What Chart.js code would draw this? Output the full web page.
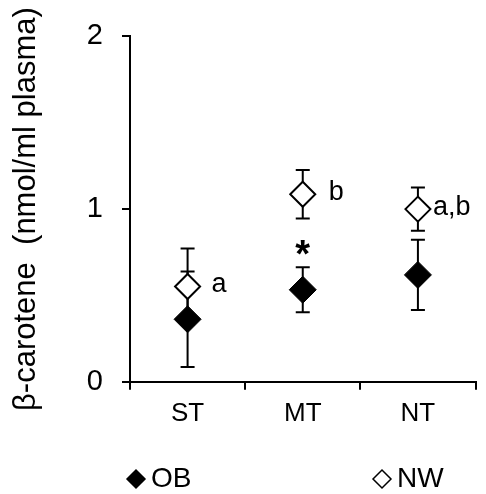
<!DOCTYPE html>
<html>
<head>
<meta charset="utf-8">
<script src="https://cdn.jsdelivr.net/npm/chart.js@4.4.1/dist/chart.umd.min.js"></script>
<style>
  html, body { margin: 0; padding: 0; background: #fff; overflow: hidden; }
  #wrap { width: 486px; height: 494px; overflow: hidden; }
  canvas { display: block; }
</style>
</head>
<body>
<div id="wrap"><canvas id="chart" width="490" height="494" style="width:490px;height:494px"></canvas></div>
<script>
// data
const categories = ['ST', 'MT', 'NT'];
const obMeans = [0.362, 0.533, 0.619];
const obErrors = [0.276, 0.13, 0.203];
const obMarks = ['', '*', ''];
const nwMeans = [0.552, 1.086, 1.0];
const nwErrors = [0.22, 0.14, 0.125];
const nwLetters = ['a', 'b', 'a,b'];
const yTicks = [0, 1, 2];

const FONT = '"Liberation Sans", Arial, sans-serif';

// error bars under the markers
const errorBars = {
    id: 'errorBars',
    beforeDatasetsDraw(chart) {
        const { ctx, scales: { y } } = chart;
        ctx.save();
        ctx.strokeStyle = '#000';
        ctx.lineWidth = 2;
        chart.data.datasets.forEach((ds, i) => {
            chart.getDatasetMeta(i).data.forEach((pt, j) => {
                const top = y.getPixelForValue(ds.data[j] + ds.errors[j]);
                const bot = y.getPixelForValue(ds.data[j] - ds.errors[j]);
                ctx.beginPath();
                ctx.moveTo(pt.x, top); ctx.lineTo(pt.x, bot);
                ctx.moveTo(pt.x - 7, top); ctx.lineTo(pt.x + 7, top);
                ctx.moveTo(pt.x - 7, bot); ctx.lineTo(pt.x + 7, bot);
                ctx.stroke();
            });
        });
        ctx.restore();
    }
};

// significance letters and asterisk
const letterOffsets = [24, 26, 15];
const annotations = {
    id: 'annotations',
    afterDatasetsDraw(chart) {
        const { ctx, scales: { y } } = chart;
        ctx.save();
        ctx.fillStyle = '#000';
        ctx.textBaseline = 'alphabetic';
        chart.data.datasets.forEach((ds, i) => {
            chart.getDatasetMeta(i).data.forEach((pt, j) => {
                const txt = ds.marks[j];
                if (!txt) return;
                if (txt === '*') {
                    ctx.font = 'bold 38px ' + FONT;
                    ctx.textAlign = 'center';
                    const cy = y.getPixelForValue(ds.data[j] + ds.errors[j]) - 22;
                    ctx.fillText(txt, pt.x, cy + 0.56 * 38);
                } else {
                    ctx.font = '27px ' + FONT;
                    ctx.textAlign = 'left';
                    ctx.fillText(txt, pt.x + letterOffsets[j], pt.y + 6);
                }
            });
        });
        ctx.restore();
    }
};

// legend along the bottom
const legendX = [136, 382];
const bottomLegend = {
    id: 'bottomLegend',
    afterDraw(chart) {
        const { ctx } = chart;
        ctx.save();
        ctx.font = '28px ' + FONT;
        ctx.textBaseline = 'middle';
        ctx.textAlign = 'left';
        chart.data.datasets.forEach((ds, i) => {
            const x = legendX[i], yy = 479;
            ctx.fillStyle = ds.pointBackgroundColor;
            ctx.strokeStyle = ds.pointBorderColor;
            ctx.lineWidth = 1.5;
            Chart.helpers.drawPoint(ctx, { pointStyle: 'rectRot', radius: 9, borderWidth: 1.5 }, x, yy);
            ctx.fillStyle = '#000';
            ctx.fillText(ds.label, x + 15, yy);
        });
        ctx.restore();
    }
};

const axisGrid = { display: true, drawOnChartArea: false, drawTicks: true, tickLength: 8, color: '#000', lineWidth: 2 };

new Chart(document.getElementById('chart'), {
    type: 'line',
    data: {
        labels: categories,
        datasets: [
            {
                label: 'OB', data: obMeans, errors: obErrors, marks: obMarks,
                showLine: false, pointStyle: 'rectRot', pointRadius: 13.5, pointHoverRadius: 13.5,
                pointBackgroundColor: '#000', pointBorderColor: '#000', pointBorderWidth: 1
            },
            {
                label: 'NW', data: nwMeans, errors: nwErrors, marks: nwLetters,
                showLine: false, pointStyle: 'rectRot', pointRadius: 12.5, pointHoverRadius: 12.5,
                pointBackgroundColor: '#fff', pointBorderColor: '#000', pointBorderWidth: 2
            }
        ]
    },
    options: {
        responsive: false,
        animation: false,
        events: [],
        layout: { padding: { top: 35, right: 0, bottom: 57, left: 0 } },
        plugins: { legend: { display: false }, tooltip: { enabled: false } },
        scales: {
            x: {
                offset: true,
                grid: { ...axisGrid, offset: true },
                border: { display: true, color: '#000', width: 2 },
                ticks: { color: '#000', font: { family: FONT, size: 26 }, padding: 8 }
            },
            y: {
                min: 0, max: 2,
                afterBuildTicks: s => { s.ticks = yTicks.map(v => ({ value: v })); },
                afterFit: s => { s.width = 130; },
                grid: axisGrid,
                border: { display: true, color: '#000', width: 2 },
                ticks: { color: '#000', font: { family: FONT, size: 29 }, padding: 19 },
                title: {
                    display: true, text: 'β-carotene  (nmol/ml plasma)', color: '#000',
                    font: { family: FONT, size: 31 }, padding: { top: 8, bottom: 0 }
                }
            }
        }
    },
    plugins: [errorBars, annotations, bottomLegend]
});
</script>
</body>
</html>
